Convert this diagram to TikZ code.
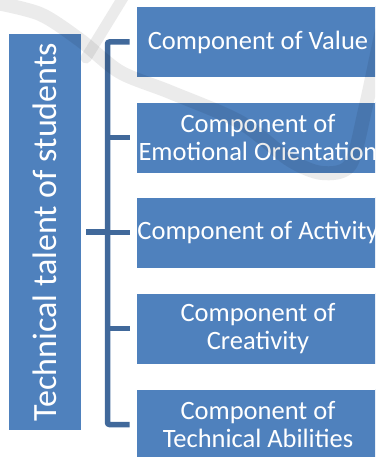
\documentclass[tikz,border=0pt]{standalone}
\usepackage{fontspec}
\setmainfont{Carlito}
\usepackage{graphicx}
\definecolor{boxblue}{HTML}{4F81BD}
\definecolor{barblue}{HTML}{41699B}
\begin{document}
\begin{tikzpicture}[x=1pt,y=-1pt,
  rootbox/.style={fill=boxblue, draw=none, text=white, inner sep=0pt,
    minimum width=72pt, minimum height=396pt,
    font=\fontsize{34}{40}\selectfont},
  compbox/.style={fill=boxblue, draw=white, line width=0.6pt, text=white,
    inner sep=0pt, minimum width=244pt, minimum height=71pt,
    align=center, font=\fontsize{26.5}{28}\selectfont},
  bracket/.style={draw=barblue, line width=5.5pt, line cap=butt},
  wmark/.style={draw=black, opacity=0.08, line cap=round, line join=round}]
\useasboundingbox (0,0) rectangle (375,457);
\clip (0,0) rectangle (375,457);

% root and components
\node[rootbox] (root) at (45,232) {\rotatebox{90}{Technical talent of students}};
\node[compbox] (c1) at (258,42)    {Component of Value};
\node[compbox] (c2) at (258,137.5) {Component of\\Emotional Orientation};
\node[compbox] (c3) at (258,232.5) {Component of Activity};
\node[compbox] (c4) at (258,328.5) {Component of\\Creativity};
\node[compbox] (c5) at (258,424.5) {Component of\\Technical Abilities};

% bracket connectors
\coordinate (bus) at (107.5,232);
\draw[bracket, rounded corners=2pt]
  ([xshift=-6pt]c1.west) -- (c1.west -| bus) -- (c5.west -| bus) -- ([xshift=-6pt]c5.west);
\draw[bracket] ([xshift=-6pt]c2.west) -- (c2.west -| bus);
\draw[bracket] ([xshift=-6pt]c3.west) -- ([xshift=-1pt]c3.west -| bus);
\draw[bracket] ([xshift=-6pt]c4.west) -- (c4.west -| bus);
\draw[bracket] ([xshift=5pt]root.east) -- (root.east -| bus);

% faint background swoosh
\draw[wmark, line width=14pt] plot[smooth] coordinates
  {(-8,2) (40,14) (80,40) (120,72) (170,92) (240,122) (290,160) (322,173) (350,165) (365,110) (382,30)};
\draw[wmark, line width=11pt] (124,-4) -- (86,58);
\end{tikzpicture}
\end{document}
